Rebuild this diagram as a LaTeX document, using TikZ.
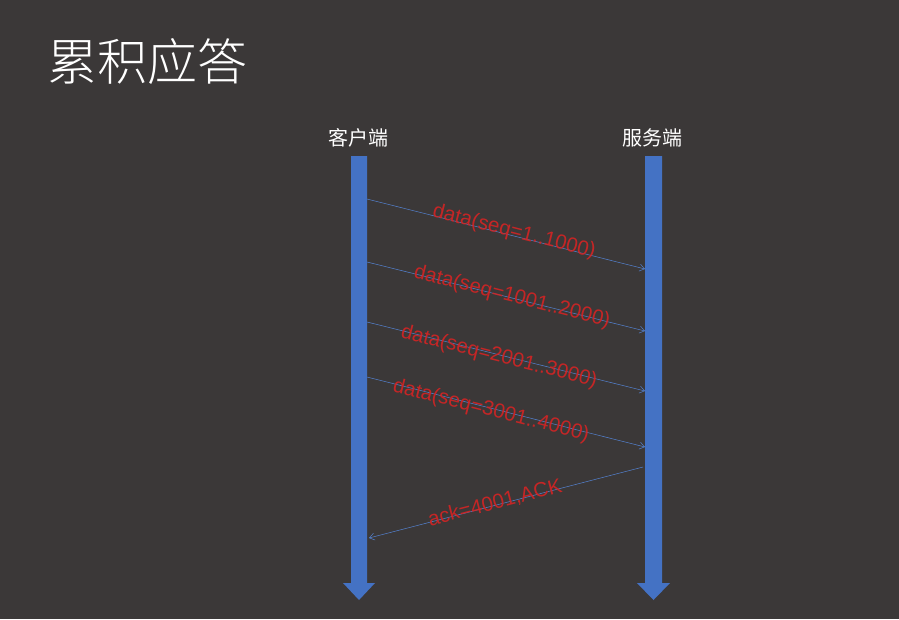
\documentclass[tikz,border=0pt]{standalone}
\usepackage{fontspec}
\setmainfont{Liberation Sans}
\newfontfamily\cjk{Noto Sans CJK SC}
\newfontfamily\cjklight{Noto Sans CJK SC Light}
\usetikzlibrary{arrows.meta}
\definecolor{bgc}{RGB}{59,56,56}
\definecolor{barc}{RGB}{68,114,196}
\definecolor{msgc}{RGB}{84,130,210}
\definecolor{lblc}{RGB}{212,36,36}
\begin{document}
\begin{tikzpicture}[x=1pt,y=-1pt,
  msg/.style={draw=msgc,line width=0.5pt,-{Straight Barb[length=5pt,width=7pt,line width=0.5pt]}},
  lbl/.style={text=lblc,font=\fontsize{20.5}{20.5}\selectfont,inner sep=0pt,opacity=0.9},
  head/.style={text=white,font=\cjk\fontsize{20}{20}\selectfont,inner sep=0pt}]
\fill[bgc] (0,0) rectangle (899,619);
\useasboundingbox (0,0) rectangle (899,619);
\node[text=white,font=\cjklight\fontsize{50}{50}\selectfont,inner sep=0pt] (title) at (147,62) {累积应答};
\node[head] (client) at (358,138) {客户端};
\node[head] (server) at (652,138) {服务端};
% lifelines
\fill[barc] (351,156) -- (367,156) -- (367,583) -- (375,583) -- (359,600) -- (343,583) -- (351,583) -- cycle;
\fill[barc] (645,156) -- (662,156) -- (662,583) -- (670,583) -- (653.5,600) -- (637,583) -- (645,583) -- cycle;
% coordinates
\coordinate (c1) at (367,199); \coordinate (s1) at (645,269);
\coordinate (c2) at (367,262); \coordinate (s2) at (645,331);
\coordinate (c3) at (367,322); \coordinate (s3) at (645,391);
\coordinate (c4) at (367,377); \coordinate (s4) at (645,447);
\coordinate (s5) at (643,467); \coordinate (c5) at (369,538);
\draw[msg] (c1) -- (s1);
\draw[msg] (c2) -- (s2);
\draw[msg] (c3) -- (s3);
\draw[msg] (c4) -- (s4);
\draw[msg] (s5) -- (c5);
\node[lbl,rotate=-14.2] (l1) at (514,232) {data(seq=1..1000)};
\node[lbl,rotate=-14.2] (l2) at (512,297) {data(seq=1001..2000)};
\node[lbl,rotate=-14.2] (l3) at (499,357) {data(seq=2001..3000)};
\node[lbl,rotate=-14.2] (l4) at (491,411) {data(seq=3001..4000)};
\node[lbl,rotate=14.4] (l5) at (495,503) {ack=4001,ACK};
\end{tikzpicture}
\end{document}
